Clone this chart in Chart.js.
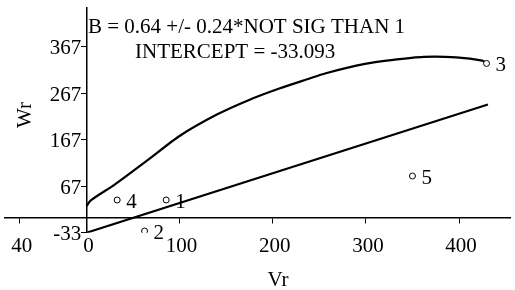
<!DOCTYPE html>
<html>
<head>
<meta charset="utf-8">
<script src="https://cdn.jsdelivr.net/npm/chart.js@4.4.1/dist/chart.umd.min.js"></script>
<style>
  html, body { margin: 0; padding: 0; background: #fff; }
</style>
</head>
<body>
<canvas id="myChart" width="515" height="290"></canvas>
<script>
// fitted regression line (B = 0.64, intercept -33.093)
const fitVr = [0, 431];
const fitWr = [-33.093, 242.7];

// upper curve
const curveVr = [0, 5, 30, 65, 100, 140, 174, 207, 237, 257, 299, 327, 362, 397, 425, 429.5];
const curveWr = [24, 37, 70, 122, 175, 221, 252, 277, 297, 310, 330, 338, 345, 344, 337, 331];

// observed points
const pointVr = [85.6, 62.4, 429.5, 33, 350];
const pointWr = [37.3, -29.4, 331, 37.3, 88.9];
const pointLabels = ['1', '2', '3', '4', '5'];

const xTicks = [-71.6, 0, 100, 200, 300, 400];
const xTickLabels = ['40', '0', '100', '200', '300', '400'];
const yTicks = [-33, 67, 167, 267, 367];

const noteLines = ['B = 0.64 +/- 0.24*NOT SIG THAN 1', 'INTERCEPT = -33.093'];

Chart.defaults.font.family = '"Liberation Serif", "Times New Roman", serif';
Chart.defaults.font.size = 21;
Chart.defaults.color = '#000';

const toXY = (xs, ys) => xs.map((v, i) => ({ x: v, y: ys[i] }));
const noPad = s => { s.paddingLeft = 0; s.paddingRight = 0; s.paddingTop = 0; s.paddingBottom = 0; };

const textPlugin = {
  id: 'textPlugin',
  afterDatasetsDraw(chart) {
    const ctx = chart.ctx;
    const sx = chart.scales.x, sy = chart.scales.y;
    ctx.save();
    ctx.fillStyle = '#000';
    ctx.font = '21px "Liberation Serif"';
    ctx.textAlign = 'left';
    ctx.textBaseline = 'alphabetic';
    pointVr.forEach((v, i) => {
      ctx.fillText(pointLabels[i], sx.getPixelForValue(v) + 9, sy.getPixelForValue(pointWr[i]) + 8);
    });
    ctx.fillText(noteLines[0], 88, 33);
    ctx.fillText(noteLines[1], 135, 58);
    ctx.textAlign = 'center';
    ctx.fillText('Vr', 278, 286);
    ctx.translate(31, 115);
    ctx.rotate(-Math.PI / 2);
    ctx.fillText('Wr', 0, 0);
    ctx.restore();
  }
};

const ctx = document.getElementById('myChart').getContext('2d');
const chart = new Chart(ctx, {
  type: 'scatter',
  data: {
    datasets: [
      {
        data: toXY(pointVr, pointWr),
        pointRadius: 3,
        pointBorderWidth: 1,
        pointBorderColor: '#000',
        pointBackgroundColor: '#fff',
        showLine: false
      },
      {
        data: toXY(curveVr, curveWr),
        showLine: true,
        borderColor: '#000',
        borderWidth: 2.2,
        pointRadius: 0,
        tension: 0.25
      },
      {
        data: toXY(fitVr, fitWr),
        showLine: true,
        borderColor: '#000',
        borderWidth: 2.2,
        pointRadius: 0
      }
    ]
  },
  options: {
    responsive: false,
    animation: false,
    events: [],
    layout: { padding: { top: 8, bottom: 57.3, left: 0, right: 0 } },
    plugins: { legend: { display: false }, tooltip: { enabled: false } },
    scales: {
      x: {
        type: 'linear',
        min: -87.4,
        max: 454.7,
        position: { y: 0 },
        afterBuildTicks: s => { s.ticks = xTicks.map(v => ({ value: v })); },
        afterFit: noPad,
        grid: { drawOnChartArea: false, drawTicks: true, tickLength: 5, color: '#000', lineWidth: 1 },
        border: { color: '#000', width: 1.5 },
        ticks: { padding: 12, labelOffset: 2, maxRotation: 0, autoSkip: false, callback: (v, i) => xTickLabels[i] }
      },
      y: {
        type: 'linear',
        min: -33,
        max: 450.2,
        position: { x: 0 },
        afterBuildTicks: s => { s.ticks = yTicks.map(v => ({ value: v })); },
        afterFit: noPad,
        grid: { drawOnChartArea: false, drawTicks: true, tickLength: 5, color: '#000', lineWidth: 1 },
        border: { color: '#000', width: 1.5 },
        ticks: { labelOffset: 2, autoSkip: false, callback: v => v + ' ' }
      }
    }
  },
  plugins: [textPlugin]
});
</script>
</body>
</html>
